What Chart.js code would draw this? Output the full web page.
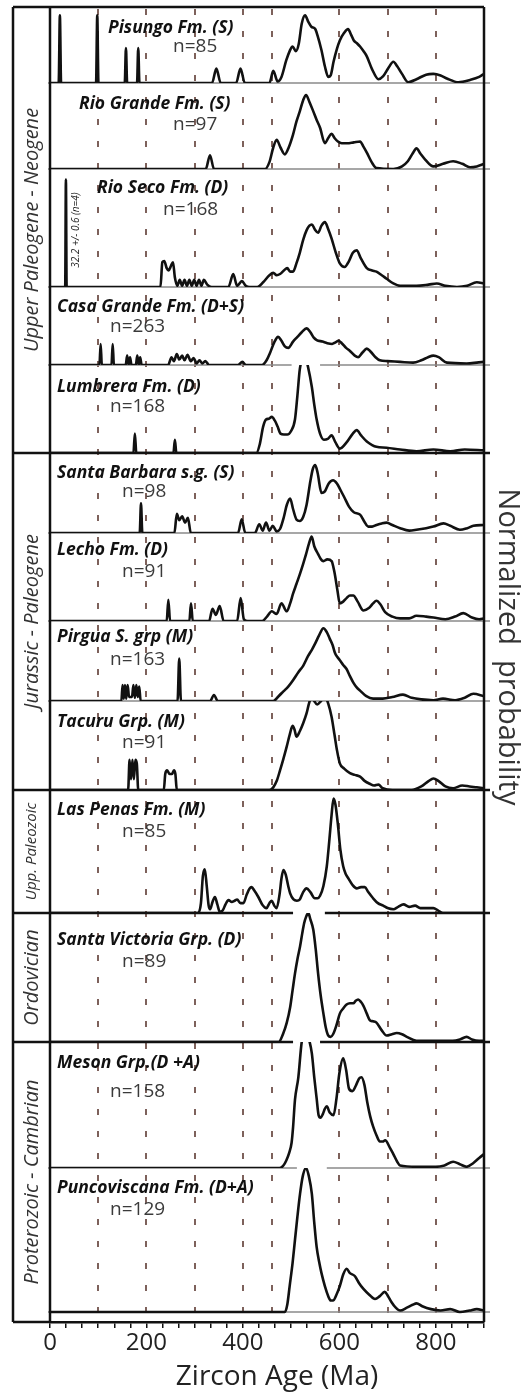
<!DOCTYPE html>
<html>
<head>
<meta charset="utf-8">
<script src="https://cdn.jsdelivr.net/npm/chart.js@4/dist/chart.umd.min.js"></script>
<style>
  html, body { margin: 0; padding: 0; background: #fff; }
  #wrap { width: 532px; height: 1395px; }
</style>
</head>
<body>
<div id="wrap"><canvas id="zircon" width="532" height="1395"></canvas></div>
<script>
// Formation names and number of grains, top panel first
const formations = ['Pisungo Fm. (S)', 'Rio Grande Fm. (S)', 'Rio Seco Fm. (D)', 'Casa Grande Fm. (D+S)',
  'Lumbrera Fm. (D)', 'Santa Barbara s.g. (S)', 'Lecho Fm. (D)', 'Pirgua S. grp (M)', 'Tacuru Grp. (M)',
  'Las Penas Fm. (M)', 'Santa Victoria Grp. (D)', 'Meson Grp.(D +A)', 'Puncoviscana Fm. (D+A)'];
const counts = [85, 97, 168, 263, 168, 98, 91, 163, 91, 85, 89, 158, 129];

const eras = ['Upper Paleogene - Neogene', 'Jurassic - Paleogene', 'Upp. Paleozoic', 'Ordovician', 'Proterozoic - Cambrian'];
const eraPanels = [[0, 4], [5, 8], [9, 9], [10, 10], [11, 12]];

const refAges = [100, 200, 300, 400, 460, 600, 700, 800];
const tickLabels = [0, 200, 400, 600, 800];

// probability curves: [age (Ma), normalized probability]
const pisungo = [[0,0],[18,0],[20.5,0.89],[23,0],[95.5,0],[98,0.89],[100.5,0],[155,0],[157.5,0.46],[160,0],[180.5,0],[183,0.46],[185.5,0],
  [336,0],[345,0.19],[354,0],[386,0],[395,0.19],[404,0],[455,0],[463,0.16],[472,0.02],[480,0.08],[490,0.30],[497,0.42],[503,0.48],[510,0.42],
  [516,0.52],[522,0.78],[529,0.89],[536,0.80],[542,0.74],[550,0.71],[555,0.62],[563,0.43],[570,0.22],[577,0.08],[582,0.10],[588,0.28],[595,0.45],
  [601,0.56],[610,0.66],[618,0.71],[624,0.64],[630,0.56],[637,0.52],[643,0.48],[650,0.42],[657,0.35],[668,0.18],[681,0.05],[691,0.09],[702,0.20],
  [712,0.28],[720,0.22],[730,0.12],[743,0.01],[760,0.05],[780,0.11],[795,0.12],[810,0.10],[823,0.06],[847,0.01],[871,0.04],[890,0.08],[900,0.12]];
const rioGrande = [[0,0],[323,0],[331.8,0.16],[340,0],[446,0],[455,0.08],[463,0.25],[470,0.34],[478,0.25],[487,0.17],[495,0.25],[504,0.40],
  [511,0.55],[518,0.67],[525,0.80],[531,0.86],[538,0.78],[546,0.67],[553,0.57],[560,0.48],[570,0.30],[577,0.36],[584,0.41],[590,0.36],[597,0.32],
  [605,0.30],[616,0.30],[630,0.31],[643,0.32],[650,0.26],[657,0.19],[667,0.08],[677,0.01],[712,0],[730,0.03],[742,0.09],[752,0.18],[760,0.24],
  [768,0.18],[778,0.11],[795,0.03],[815,0.06],[836,0.09],[855,0.06],[871,0.02],[885,0.03],[900,0.06]];
const rioSeco = [[0,0],[31.5,0],[33,0.91],[34.5,0],[229,0],[233,0.21],[237,0.22],[242,0.16],[246,0.14],[251,0.18],[255,0.21],[259,0.08],[264,0.01],
  [269,0.06],[274,0.01],[279,0.06],[284,0.01],[289,0.06],[294,0.01],[299,0.06],[304,0.01],[309,0.06],[314,0.01],[319,0.06],[326,0.02],[335,0],
  [370,0],[380,0.11],[388,0.01],[398,0.05],[406,0.01],[414,0],[430,0],[442,0.04],[455,0.10],[463,0.12],[470,0.10],[477,0.11],[485,0.14],[492,0.16],
  [498,0.13],[504,0.13],[511,0.20],[518,0.29],[525,0.40],[532,0.48],[538,0.52],[543,0.53],[549,0.49],[556,0.46],[563,0.52],[570,0.55],[577,0.49],
  [584,0.41],[592,0.30],[601,0.20],[611,0.17],[620,0.22],[628,0.29],[636,0.31],[645,0.24],[657,0.16],[668,0.14],[677,0.13],[688,0.10],[698,0.07],
  [712,0.03],[726,0.01],[760,0.01],[785,0.02],[802,0.03],[820,0.01],[844,0],[865,0.01],[885,0.04],[900,0.03]];
const casaGrande = [[0,0],[102.5,0],[105,0.27],[107.5,0],[127.5,0],[130,0.27],[132.5,0],[157,0],[160,0.12],[163,0],[166,0.10],[169,0],[178,0],
  [181,0.12],[184,0],[187,0.10],[190,0],[245,0],[252,0.10],[257,0.05],[263,0.14],[268,0.07],[274,0.12],[279,0.06],[285,0.13],[292,0.05],[298,0.09],
  [304,0.02],[310,0.06],[316,0.02],[322,0.05],[330,0],[390,0],[399,0.04],[406,0],[440,0],[450,0.07],[456,0.15],[465,0.29],[473,0.36],[480,0.31],
  [487,0.24],[494,0.22],[504,0.30],[513,0.36],[522,0.42],[532,0.47],[540,0.42],[547,0.35],[553,0.32],[565,0.30],[575,0.28],[585,0.27],[592,0.29],
  [598,0.31],[605,0.28],[614,0.22],[622,0.18],[632,0.12],[639,0.10],[648,0.16],[657,0.21],[665,0.17],[675,0.10],[684,0.06],[700,0.05],[726,0.04],
  [753,0.03],[770,0.06],[784,0.10],[795,0.12],[806,0.10],[823,0.03],[864,0.02],[885,0.03],[900,0.04]];
const lumbrera = [[0,0],[173,0],[176,0.22],[179,0],[256,0],[259,0.15],[262,0],[428,0],[435,0.10],[442,0.30],[448,0.38],[454,0.39],[460,0.41],
  [466,0.37],[472,0.30],[478,0.22],[485,0.21],[492,0.21],[500,0.25],[508,0.38],[513,0.65],[518,0.95],[524,1.08],[529,1.10],[535,0.98],[543,0.75],
  [548,0.55],[553,0.38],[560,0.22],[568,0.15],[576,0.16],[584,0.20],[592,0.12],[601,0.05],[615,0.12],[628,0.22],[636,0.26],[645,0.20],[657,0.13],
  [668,0.09],[677,0.07],[698,0.06],[726,0.04],[760,0.02],[795,0.04],[830,0.02],[860,0.04],[900,0.03]];
const santaBarbara = [[0,0],[186,0],[188.7,0.37],[191.5,0],[258,0],[263,0.24],[268,0.16],[274,0.21],[280,0.13],[286,0.19],[292,0],[390,0],
  [397.5,0.17],[405,0],[425,0],[434,0.11],[441,0.03],[448,0.13],[455,0.03],[462,0.09],[470,0.02],[477,0.05],[485,0.20],[491,0.35],[498,0.43],
  [504,0.30],[511,0.17],[518,0.15],[525,0.20],[532,0.35],[540,0.65],[545,0.80],[550,0.85],[555,0.75],[563,0.50],[570,0.52],[578,0.62],[587,0.66],
  [595,0.62],[603,0.53],[610,0.45],[620,0.33],[630,0.26],[643,0.23],[652,0.14],[660,0.08],[668,0.08],[677,0.10],[688,0.12],[698,0.13],[710,0.10],
  [726,0.06],[745,0.03],[760,0.04],[780,0.06],[795,0.08],[816,0.12],[830,0.09],[850,0.04],[865,0.06],[878,0.09],[900,0.10]];
const lecho = [[0,0],[242,0],[245.4,0.24],[249,0],[289,0],[292.4,0.20],[296,0],[330,0],[337,0.14],[344,0.07],[352,0.17],[360,0],[388,0],
  [395.4,0.26],[402,0.02],[410,0],[440,0],[450,0.05],[460,0.11],[470,0.08],[480,0.20],[491,0.11],[498,0.20],[504,0.31],[511,0.42],[518,0.53],
  [525,0.65],[531,0.76],[537,0.88],[542.6,0.96],[548,0.85],[556,0.76],[562,0.70],[567,0.68],[575,0.70],[584,0.68],[590,0.55],[596,0.35],[601,0.20],
  [608,0.22],[615,0.26],[622,0.29],[629,0.29],[638,0.22],[650,0.12],[662,0.15],[670,0.20],[677,0.23],[685,0.19],[695,0.10],[710,0.05],[726,0.03],
  [745,0.03],[760,0.06],[780,0.05],[795,0.04],[820,0.02],[840,0.05],[857,0.09],[875,0.04],[890,0.02],[900,0.03]];
const pirgua = [[0,0],[148,0],[150.5,0.20],[153,0.03],[155.5,0.20],[158,0.03],[161,0.20],[164,0.05],[170,0.05],[173,0.20],[176,0.04],[179,0.20],
  [182,0.05],[185,0.18],[188,0],[264.5,0],[268,0.53],[271.5,0],[332,0],[340,0.075],[348,0],[463,0],[474,0.06],[484,0.12],[494,0.18],[504,0.26],
  [515,0.36],[525,0.44],[535,0.56],[543,0.64],[550,0.72],[558,0.82],[567,0.91],[574,0.86],[580,0.78],[586,0.70],[591,0.60],[596,0.55],[601,0.51],
  [608,0.45],[615,0.40],[622,0.31],[629,0.23],[636,0.17],[643,0.13],[656,0.06],[670,0.03],[690,0.03],[710,0.05],[732,0.08],[750,0.04],[770,0.02],
  [795,0.01],[815,0.03],[840,0.01],[860,0.04],[878,0.09],[900,0.06]];
const tacuru = [[0,0],[162,0],[165,0.34],[168,0.12],[171,0.34],[174,0.12],[177,0.34],[180,0.30],[183,0],[236,0],[239,0.18],[243,0.22],[248,0.18],
  [253,0.18],[257,0.22],[260,0.18],[263,0],[455,0],[463,0.03],[470,0.10],[477,0.22],[484,0.35],[491,0.49],[497,0.62],[503,0.72],[507,0.68],[511,0.60],
  [518,0.66],[525,0.75],[532,0.86],[537,0.97],[542.6,1.05],[548,1.00],[554,0.96],[562,1.00],[570,1.05],[577,0.97],[584,0.82],[590,0.62],[595,0.45],
  [601,0.30],[610,0.24],[622,0.19],[632,0.17],[643,0.15],[653,0.10],[663,0.07],[672,0.05],[681,0.06],[690,0.02],[710,0],[750,0],[770,0.04],
  [785,0.10],[795,0.13],[806,0.10],[820,0.04],[836,0.02],[855,0.05],[870,0.04],[885,0.03],[900,0.02]];
const lasPenas = [[0,0],[307,0],[313,0.08],[317,0.30],[321,0.355],[325,0.22],[329,0.06],[332,0.03],[337,0.09],[342,0.13],[347,0.07],[352,0.01],
  [358,0.02],[364,0.07],[370,0.105],[377,0.09],[383,0.10],[388,0.11],[395,0.08],[401,0.08],[408,0.15],[414,0.20],[418,0.21],[424,0.18],[432,0.13],
  [440,0.07],[449,0.04],[455,0.08],[460,0.10],[465,0.06],[470,0.04],[476,0.15],[480,0.28],[484,0.35],[489,0.31],[494,0.22],[498,0.16],[505,0.11],
  [512,0.10],[518,0.11],[525,0.17],[532,0.20],[540,0.17],[549,0.12],[555,0.12],[560,0.14],[567,0.22],[574,0.38],[579,0.58],[584,0.80],[588,0.93],
  [592,0.88],[597,0.72],[602,0.52],[608,0.38],[613,0.32],[619,0.28],[627,0.23],[636,0.20],[645,0.21],[653,0.21],[660,0.17],[670,0.12],[680,0.08],
  [691,0.06],[700,0.04],[712,0.03],[722,0.05],[733,0.07],[745,0.05],[757,0.06],[768,0.04],[780,0.04],[795,0.04],[805,0.02],[815,0],[900,0]];
const santaVictoria = [[0,0],[474,0],[484,0.07],[491,0.15],[498,0.27],[503,0.40],[508,0.53],[513,0.64],[518.5,0.74],[523,0.84],[527,0.92],
  [531,0.97],[535.7,1.0],[540,0.95],[546,0.87],[551,0.72],[556,0.53],[561,0.37],[567,0.22],[572,0.11],[577,0.05],[582,0.04],[587,0.06],[594,0.13],
  [601,0.22],[608,0.26],[615,0.29],[622,0.30],[629,0.30],[634,0.32],[639,0.33],[645,0.31],[650,0.28],[657,0.22],[663,0.17],[670,0.16],[677,0.15],
  [688,0.09],[698,0.05],[709,0.06],[719,0.07],[730,0.06],[740,0.04],[760,0.01],[795,0.01],[835,0.01],[850,0.02],[864,0.04],[875,0.02],[890,0.01],[900,0.01]];
const meson = [[0,0],[476,0],[484,0.02],[490,0.06],[496,0.12],[501,0.20],[504,0.32],[508,0.54],[515,0.72],[522,1.00],[527,1.05],[532,1.06],
  [537,1.02],[543,0.91],[548,0.72],[553,0.55],[557,0.42],[561,0.40],[566,0.43],[570,0.47],[574,0.49],[580,0.44],[588,0.42],[594,0.55],[600,0.75],
  [608,0.87],[614,0.78],[620,0.63],[627,0.61],[635,0.66],[641,0.71],[646,0.72],[652,0.66],[658,0.52],[664,0.41],[670,0.33],[677,0.26],[684,0.21],
  [690,0.21],[695,0.22],[705,0.16],[712,0.11],[720,0.05],[726,0.02],[760,0.01],[800,0.01],[818,0.02],[836,0.05],[850,0.03],[864,0.01],[878,0.04],
  [890,0.08],[900,0.11]];
const puncoviscana = [[0,0],[487,0],[492,0.05],[497,0.18],[503,0.34],[508,0.50],[513,0.66],[518.5,0.82],[524,0.94],[531,1.0],[537,0.94],
  [543,0.82],[548,0.62],[553,0.45],[558,0.35],[563,0.27],[570,0.18],[577,0.11],[582,0.08],[587,0.08],[594,0.12],[601,0.18],[608,0.26],[615,0.30],
  [622,0.27],[632,0.25],[641,0.20],[650,0.16],[662,0.12],[674,0.09],[684,0.11],[694,0.14],[701,0.11],[708,0.07],[717,0.03],[726,0.01],[740,0.03],
  [752,0.05],[760,0.06],[772,0.04],[790,0.02],[810,0.01],[830,0.02],[850,0],[870,0.01],[885,0.02],[900,0.01]];

const series = [pisungo, rioGrande, rioSeco, casaGrande, lumbrera, santaBarbara, lecho, pirgua, tacuru,
  lasPenas, santaVictoria, meson, puncoviscana];

// layout only (pixels)
const panelHeights = [76, 86, 118, 78, 88, 80, 88, 80, 89, 123, 129, 126, 154];
const labelPos = [[108, 28, 173, 47], [79, 104, 173, 125], [97, 188, 163, 210], [57, 307, 110, 327], [57, 387, 110, 407],
  [57, 473, 122, 492], [57, 550, 122, 572], [57, 637, 110, 660], [57, 722, 122, 743], [57, 810, 122, 832],
  [57, 940, 122, 962], [57, 1063, 110, 1092], [57, 1188, 110, 1210]];
const baselineGaps = { 3: [501, 560], 9: [504, 570], 10: [504, 560], 11: [512, 574] };

const last = formations.length - 1;
const eraBreaks = eraPanels.slice(0, -1).map(p => p[1]);
const FONT = '"Open Sans", Lato, sans-serif';

// minor ticks every 100/3 Ma
const xTicks = [];
for (let i = 0; i <= 27; i++) xTicks.push(i * 100 / 3);

const scales = {
  x: {
    type: 'linear', min: 0, max: 900, position: 'bottom',
    afterBuildTicks: s => { s.ticks = xTicks.map(v => ({ value: v })); },
    afterFit: s => { s.height = 73; },
    ticks: {
      autoSkip: false, maxRotation: 0, padding: 1, color: '#222',
      font: { family: FONT, size: 24 },
      callback: v => tickLabels.includes(v) ? String(v) : ''
    },
    grid: { drawOnChartArea: false, drawTicks: true, tickLength: 6, color: '#111', lineWidth: 1.5 },
    border: { display: true, color: '#111', width: 2.5 }
  }
};
formations.forEach((f, i) => {
  scales['y' + i] = {
    type: 'linear', display: false, position: 'left',
    stack: 'panels', stackWeight: panelHeights[i], weight: formations.length - i,
    min: i === last ? -10 / 144 : 0, max: 1
  };
});

function line(ctx, x1, y1, x2, y2) {
  ctx.beginPath(); ctx.moveTo(x1, y1); ctx.lineTo(x2, y2); ctx.stroke();
}

const decor = {
  id: 'decor',
  beforeDatasetsDraw(chart) {
    const { ctx, chartArea: a, scales: sc } = chart;
    const xs = sc.x;
    ctx.save();
    // dashed reference ages
    ctx.strokeStyle = '#5e3b33';
    ctx.lineWidth = 1.6;
    ctx.setLineDash([6, 16]);
    refAges.forEach(age => {
      const px = Math.round(xs.getPixelForValue(age));
      line(ctx, px, a.top + 2, px, a.bottom);
    });
    ctx.setLineDash([]);
    // panel baselines
    formations.forEach((f, i) => {
      const py = sc['y' + i].getPixelForValue(0);
      const era = eraBreaks.includes(i);
      ctx.strokeStyle = era ? '#111' : '#8a8a8a';
      ctx.lineWidth = era ? 2.5 : 1.5;
      const x0 = era ? 13 : a.left - 2;
      const x1 = xs.getPixelForValue(900) + 6;
      const gap = baselineGaps[i];
      if (gap) {
        line(ctx, x0, py, xs.getPixelForValue(gap[0]), py);
        line(ctx, xs.getPixelForValue(gap[1]), py, x1, py);
      } else {
        line(ctx, x0, py, x1, py);
      }
    });
    ctx.restore();
  },
  afterDraw(chart) {
    const { ctx, chartArea: a, scales: sc } = chart;
    ctx.save();
    // frame + era column
    ctx.strokeStyle = '#111';
    ctx.lineWidth = 2.5;
    line(ctx, 13, a.top, a.right, a.top);
    line(ctx, 13, a.top, 13, a.bottom);
    line(ctx, a.left, a.top, a.left, a.bottom);
    line(ctx, a.right, a.top, a.right, a.bottom);
    line(ctx, 13, a.bottom, a.left, a.bottom);

    // era labels
    ctx.fillStyle = '#333';
    ctx.textAlign = 'center';
    ctx.textBaseline = 'middle';
    eras.forEach((name, k) => {
      const top = sc['y' + eraPanels[k][0]].top;
      const bottom = sc['y' + eraPanels[k][1]].bottom;
      ctx.save();
      ctx.translate(32, (top + bottom) / 2);
      ctx.rotate(-Math.PI / 2);
      ctx.font = 'italic ' + (bottom - top < 126 ? 15 : 20) + 'px ' + FONT;
      ctx.fillText(name, 0, 0);
      ctx.restore();
    });

    // formation labels
    ctx.textAlign = 'left';
    formations.forEach((name, i) => {
      const p = labelPos[i];
      ctx.font = 'italic bold 17.5px ' + FONT;
      ctx.fillStyle = '#111';
      ctx.fillText(name, p[0], p[1]);
      ctx.font = '19px ' + FONT;
      ctx.fillStyle = '#3a3a3a';
      ctx.fillText('n=' + counts[i], p[2], p[3]);
    });

    // youngest age note for Rio Seco
    ctx.save();
    ctx.translate(76, 230);
    ctx.rotate(-Math.PI / 2);
    ctx.textAlign = 'center';
    ctx.font = 'italic 10px ' + FONT;
    ctx.fillStyle = '#222';
    ctx.fillText('32.2 +/- 0.6 (n=4)', 0, 0);
    ctx.restore();

    // right-hand axis name
    ctx.save();
    ctx.translate(507, 647);
    ctx.rotate(Math.PI / 2);
    ctx.textAlign = 'center';
    ctx.font = '29px ' + FONT;
    ctx.fillStyle = '#333';
    ctx.fillText('Normalized  probability', 0, 0);
    ctx.restore();

    // x axis title
    ctx.textAlign = 'center';
    ctx.font = '28px ' + FONT;
    ctx.fillStyle = '#222';
    ctx.fillText('Zircon Age (Ma)', 277, 1377);
    ctx.restore();
  }
};

new Chart(document.getElementById('zircon'), {
  type: 'line',
  data: {
    datasets: formations.map((name, i) => ({
      label: name,
      data: series[i].map(p => ({ x: p[0], y: p[1] })),
      yAxisID: 'y' + i,
      borderColor: '#111',
      borderWidth: 2.6,
      pointRadius: 0,
      fill: false,
      cubicInterpolationMode: 'monotone'
    }))
  },
  options: {
    responsive: false,
    devicePixelRatio: 1,
    animation: false,
    layout: { padding: { top: 7, left: 50, right: 48, bottom: 0 } },
    scales: scales,
    plugins: { legend: { display: false }, tooltip: { enabled: false } }
  },
  plugins: [decor]
});
</script>
</body>
</html>
